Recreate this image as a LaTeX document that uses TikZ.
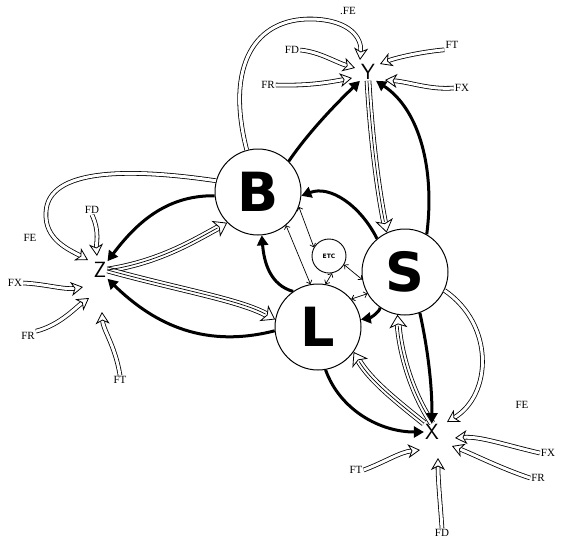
\documentclass[tikz,border=0pt]{standalone}
\usepackage{fontspec}
\setmainfont{Liberation Serif}
\newfontfamily\bigfont{DejaVu Sans}
\usetikzlibrary{arrows.meta}
\begin{document}
\begin{tikzpicture}[x=1pt,y=-1pt,
  hub/.style={circle, draw, line width=1pt, minimum size=86pt, inner sep=0pt,
    font=\bigfont\bfseries\fontsize{54}{54}\selectfont},
  small/.style={circle, draw, line width=0.9pt, minimum size=34pt, inner sep=0pt,
    font=\bigfont\bfseries\fontsize{6}{6}\selectfont},
  target/.style={font=\sffamily\fontsize{22}{22}\selectfont, inner sep=1pt},
  flab/.style={font=\fontsize{11}{11}\selectfont, inner sep=1pt},
  blk/.style={line width=3pt, -{Triangle[length=10pt,width=11pt]}},
  hol/.style={double, double distance=3pt, line width=0.8pt,
    -{Stealth[fill=white, length=12pt, width=14pt, inset=3.5pt, line width=0.8pt]}},
  holw/.style={double, double distance=5pt, line width=0.8pt,
    -{Stealth[fill=white, length=13pt, width=18pt, inset=3.5pt, line width=0.8pt]}},
  mid/.style={line width=0.7pt, shorten >=11pt},
  thin/.style={line width=0.7pt, {Straight Barb[length=3pt]}-{Straight Barb[length=3pt]}}
]
\useasboundingbox (0,0) rectangle (566,550);

% main nodes
\node[hub] (B) at (258,192) {B};
\node[hub] (S) at (405,272) {S};
\node[hub] (L) at (318,327) {L};
\node[small] (E) at (329,256) {ETC};
\node[target] (Y) at (368,72) {Y};
\node[target] (Z) at (100,270) {Z};
\node[target] (X) at (432,432) {X};

% labels
\node[flab] (FEy) at (348,11) {.FE};
\node[flab] (FDy) at (292,50) {FD};
\node[flab] (FTy) at (452,45) {FT};
\node[flab] (FRy) at (268,85) {FR};
\node[flab] (FXy) at (462,88) {FX};
\node[flab] (FDz) at (92,210) {FD};
\node[flab] (FEz) at (30,238) {FE};
\node[flab] (FXz) at (15,283) {FX};
\node[flab] (FRz) at (28,336) {FR};
\node[flab] (FTz) at (120,380) {FT};
\node[flab] (FEx) at (522,405) {FE};
\node[flab] (FXx) at (548,453) {FX};
\node[flab] (FRx) at (538,478) {FR};
\node[flab] (FTx) at (356,470) {FT};
\node[flab] (FDx) at (442,533) {FD};

% coordinates for arrow ends near the targets
\coordinate (y1) at (360,60);
\coordinate (y2) at (355,68);
\coordinate (y3) at (380,64);
\coordinate (y4) at (352,78);
\coordinate (y5) at (385,80);
\coordinate (z1) at (88,260);
\coordinate (z2) at (97,256);
\coordinate (z3) at (83,287);
\coordinate (z4) at (89,298);
\coordinate (z5) at (102,312);
\coordinate (x1) at (447,422);
\coordinate (x2) at (455,438);
\coordinate (x3) at (452,446);
\coordinate (x4) at (420,450);
\coordinate (x5) at (438,458);

% external hollow arrows: Y
\draw[hol] (B.105) .. controls (225,65) and (255,18) .. (312,19) .. controls (350,20) and (362,38) .. (y1);
\draw[hol] (FDy.east) .. controls (320,52) and (335,62) .. (y2);
\draw[hol] (FTy.south west) .. controls (420,52) and (395,58) .. (y3);
\draw[hol] (FRy.east) .. controls (310,86) and (330,82) .. (y4);
\draw[hol] (FXy.west) .. controls (430,90) and (410,82) .. (y5);

% external hollow arrows: Z
\draw[hol] (B.165) .. controls (130,168) and (48,168) .. (46,212) .. controls (44,240) and (70,250) .. (z1);
\draw[hol] (FDz.south) .. controls (100,232) and (96,244) .. (z2);
\draw[hol] (FXz.east) .. controls (45,284) and (65,290) .. (z3);
\draw[hol] (FRz.north east) .. controls (60,325) and (75,308) .. (z4);
\draw[hol] (FTz.north) .. controls (115,345) and (103,330) .. (z5);

% external hollow arrows: X
\draw[hol] (S.-25) .. controls (495,325) and (492,395) .. (x1);
\draw[hol] (FXx.west) .. controls (505,445) and (480,436) .. (x2);
\draw[hol] (FRx.west) .. controls (500,468) and (475,455) .. (x3);
\draw[hol] (FTx.east) .. controls (385,462) and (400,452) .. (x4);
\draw[hol] (FDx.north) .. controls (440,500) and (438,480) .. (x5);

% hollow arrows between targets and hubs
\draw[holw] (Y.south) .. controls (372,150) and (380,200) .. (S.115);
\draw[holw] (Z.east) .. controls (160,262) and (195,240) .. (B.225);
\draw[holw] (Z.east) .. controls (180,290) and (240,300) .. (L.170);
\draw[holw] (X.north) .. controls (410,390) and (400,350) .. (S.-100);
\draw[holw] (X.north west) .. controls (395,400) and (370,380) .. (L.-35);
\draw[mid]  (Y.south) .. controls (372,150) and (380,200) .. (S.115);
\draw[mid]  (Z.east) .. controls (160,262) and (195,240) .. (B.225);
\draw[mid]  (Z.east) .. controls (180,290) and (240,300) .. (L.170);
\draw[mid]  (X.north) .. controls (410,390) and (400,350) .. (S.-100);
\draw[mid]  (X.north west) .. controls (395,400) and (370,380) .. (L.-35);

% thick black arrows
\draw[blk] (B.45) .. controls (310,130) and (340,100) .. (Y.south west);
\draw[blk] (S.60) .. controls (435,170) and (420,110) .. (Y.south east);
\draw[blk] (S.130) .. controls (360,205) and (330,185) .. (B.-5);
\draw[blk] (B.185) .. controls (165,195) and (135,225) .. (Z.north east);
\draw[blk] (L.185) .. controls (200,350) and (150,320) .. (Z.south east);
\draw[blk] (L.125) .. controls (270,285) and (264,262) .. (B.-85);
\draw[blk] (S.-125) .. controls (380,312) and (370,318) .. (L.10);
\draw[blk] (S.-70) .. controls (428,350) and (432,385) .. (X.north);
\draw[blk] (L.-80) .. controls (340,410) and (380,432) .. (X.west);

% thin double-headed arrows
\draw[thin] (B.-20) -- (E.150);
\draw[thin] (B.-50) -- (L.100);
\draw[thin] (E.-80) -- (L.80);
\draw[thin] (E.-30) -- (S.190);
\draw[thin] (L.40) -- (S.-150);
\end{tikzpicture}
\end{document}
